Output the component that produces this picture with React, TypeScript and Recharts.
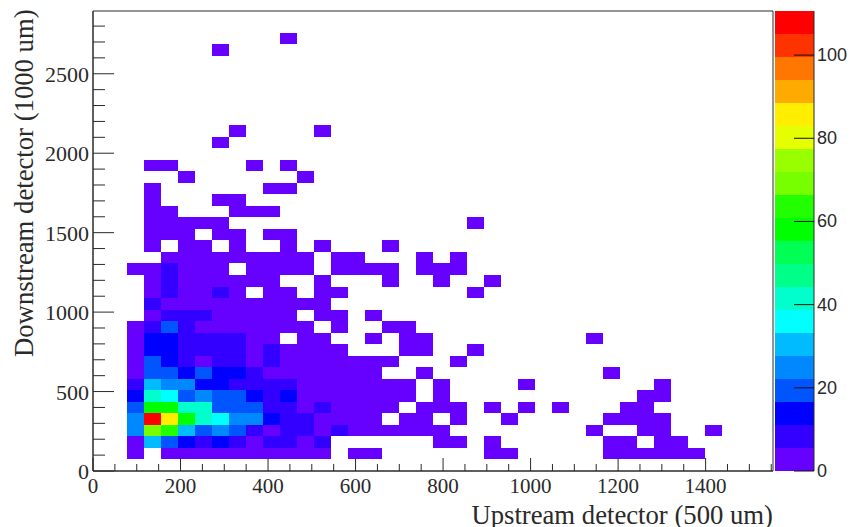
import { Scatter, ScatterChart, XAxis, YAxis, ReferenceArea, BarChart, Bar } from "recharts";

// 40 x 40 bins, rows bottom to top, columns left to right (trailing empties left out)
const COUNTS: number[][] = [
  [],
  [0,0,3,0,3,3,3,3,3,3,3,3,3,3,0,3,3,0,0,0,0,0,0,3,3,0,0,0,0,0,3,3,3,3,3,3],
  [0,0,3,30,19,14,9,14,9,3,9,9,3,9,0,0,0,0,0,0,3,3,0,3,0,0,0,0,0,0,3,3,0,3,3],
  [0,0,25,69,63,30,19,25,19,9,3,9,9,3,9,3,3,3,3,3,3,0,0,0,0,0,0,0,0,3,0,0,3,3,0,0,3],
  [0,0,25,108,85,58,41,36,25,25,14,9,9,3,3,3,3,0,3,3,0,3,0,0,3,0,0,0,0,0,3,3,3,3],
  [0,0,19,58,58,41,41,19,19,19,9,9,3,9,3,3,3,3,0,3,3,3,0,3,0,3,0,3,0,0,0,3,3],
  [0,0,14,41,36,19,25,19,19,14,9,14,3,3,3,3,3,3,3,0,3,0,0,0,0,0,0,0,0,0,0,0,3,3],
  [0,0,9,30,25,25,14,14,9,9,9,9,3,3,3,3,3,3,3,0,3,0,0,0,0,3,0,0,0,0,0,0,0,3],
  [0,0,3,19,19,14,19,14,14,9,3,3,3,3,3,3,3,0,0,3,0,0,0,0,0,0,0,0,0,0,3],
  [0,0,3,19,14,9,3,9,9,3,9,3,3,3,3,3,3,3,0,0,0,3],
  [0,0,3,14,14,9,9,9,9,3,9,3,3,3,3,0,0,0,3,3,0,0,3],
  [0,0,3,14,14,9,9,9,9,3,3,0,3,3,0,0,3,0,3,3,0,0,0,0,0,0,0,0,0,3],
  [0,0,3,9,19,9,3,3,3,3,3,3,3,0,3,0,0,3,3],
  [0,0,0,3,9,9,9,3,3,3,3,3,0,3,3,0,3],
  [0,0,0,9,3,3,3,3,3,3,3,3,3,3],
  [0,0,0,3,9,3,3,9,3,0,3,3,0,3,3,0,0,0,0,0,0,0,3],
  [0,0,0,3,9,3,3,3,3,3,3,0,0,3,0,0,0,3,0,0,3,0,0,3],
  [0,0,3,3,9,3,3,3,0,3,3,3,3,0,3,3,3,3,0,3,3,3],
  [0,0,0,0,3,3,3,3,3,3,3,3,3,0,3,3,0,0,0,3,0,3],
  [0,0,0,3,0,3,3,0,3,0,0,3,0,3,0,0,0,3],
  [0,0,0,3,3,3,0,3,3,0,3,3],
  [0,0,0,3,3,3,3,3,0,0,0,0,0,0,0,0,0,0,0,0,0,0,3],
  [0,0,0,3,3,0,0,0,3,3,3],
  [0,0,0,3,0,0,0,3,3],
  [0,0,0,3,0,0,0,0,0,0,3,3],
  [0,0,0,0,0,3,0,0,0,0,0,0,3],
  [0,0,0,3,3,0,0,0,0,3,0,3],
  [],
  [0,0,0,0,0,0,0,3],
  [0,0,0,0,0,0,0,0,3,0,0,0,0,3],
  [], [], [], [], [], [],
  [0,0,0,0,0,0,0,3],
  [0,0,0,0,0,0,0,0,0,0,0,3],
];

const PALETTE = [
  "#6600ff", "#3300ff", "#0000ff", "#0055ff", "#0088ff", "#00bbff", "#00ffff", "#00ffcc", "#00ff88", "#00ff55",
  "#00ff00", "#22ff00", "#77ff00", "#99ff00", "#e6ff00", "#ffee00", "#ffaa00", "#ff7700", "#ff3300", "#ff0000",
];

const X_MAX = 1554;
const Y_MAX = 2895;
const Z_MAX = 110.6;
const X_BIN = 38.85;
const Y_BIN = 72.55;
const X_TICKS = Array.from({ length: 32 }, (_, i) => i * 50);
const Y_TICKS = Array.from({ length: 29 }, (_, i) => i * 100);
const Z_TICKS = [0, 20, 40, 60, 80, 100];

const PLOT_W = 680;
const PLOT_H = 460;
const INK = "#2a2a2a";
const BAR_FONT = "'Liberation Sans', Arial, sans-serif";
const SERIF = "'Liberation Serif', 'Times New Roman', serif";

const bandSize = Z_MAX / PALETTE.length;
const colorOf = (count: number) => PALETTE[Math.min(Math.floor(count / bandSize), PALETTE.length - 1)];

const cells = COUNTS.flatMap((row, r) =>
  row.flatMap((count, c) =>
    count > 0 ? [{ x: (c + 0.5) * X_BIN, y: (r + 0.5) * Y_BIN, count }] : []
  )
);

const bandRow: Record<string, number | string> = { name: "z" };
PALETTE.forEach((_, i) => {
  bandRow[`b${i}`] = bandSize;
});

function Cell(props: any) {
  const w = (X_BIN * PLOT_W) / X_MAX;
  const h = (Y_BIN * PLOT_H) / Y_MAX;
  return (
    <rect
      x={props.cx - w / 2}
      y={props.cy - h / 2}
      width={w}
      height={h}
      fill={colorOf(props.payload.count)}
      shapeRendering="crispEdges"
    />
  );
}

function XTick({ x, y, payload }: any) {
  const major = payload.value % 200 === 0;
  return (
    <g>
      <line x1={x} x2={x} y1={y} y2={y - (major ? 13 : 7)} stroke={INK} />
      {major && (
        <text x={x} y={y + 22} textAnchor="middle" fontSize={21} fontFamily={SERIF} fill={INK}>
          {payload.value}
        </text>
      )}
    </g>
  );
}

function YTick({ x, y, payload }: any) {
  const major = payload.value % 500 === 0;
  return (
    <g>
      <line x1={x} x2={x + (major ? 21 : 12)} y1={y} y2={y} stroke={INK} />
      {major && (
        <text x={x - 4} y={y + 8} textAnchor="end" fontSize={22} fontFamily={SERIF} fill={INK}>
          {payload.value}
        </text>
      )}
    </g>
  );
}

function ZTick({ x, y, payload }: any) {
  return (
    <g>
      <line x1={x} x2={x - 20} y1={y} y2={y} stroke="#111" />
      <text x={x + 3} y={y + 6} fontSize={18} fontFamily={BAR_FONT} fill={INK}>
        {payload.value}
      </text>
    </g>
  );
}

export default function App() {
  return (
    <div style={{ position: "absolute", left: 0, top: 0, width: 852, height: 527, background: "#fff" }}>
      <div style={{ position: "absolute", left: 0, top: 0 }}>
        <ScatterChart width={775} height={527} margin={{ top: 11, right: 2, bottom: 0, left: 0 }}>
          <XAxis
            type="number"
            dataKey="x"
            domain={[0, X_MAX]}
            ticks={X_TICKS}
            interval={0}
            height={56}
            tickSize={0}
            tickMargin={0}
            tick={<XTick />}
            tickLine={false}
            axisLine={{ stroke: INK }}
            label={{
              value: "Upstream detector (500 um)",
              position: "insideBottomRight",
              offset: 0,
              dy: -3,
              fontSize: 26.7,
              fontFamily: SERIF,
              fill: INK,
            }}
          />
          <YAxis
            type="number"
            dataKey="y"
            domain={[0, Y_MAX]}
            ticks={Y_TICKS}
            interval={0}
            width={93}
            tickSize={0}
            tickMargin={0}
            tick={<YTick />}
            tickLine={false}
            axisLine={{ stroke: INK }}
            label={{
              value: "Downstream detector (1000 um)",
              angle: -90,
              position: "insideLeft",
              offset: 24,
              dy: 116,
              fontSize: 26.7,
              fontFamily: SERIF,
              fill: INK,
            }}
          />
          <Scatter data={cells} shape={<Cell />} isAnimationActive={false} />
          <ReferenceArea x1={0} x2={X_MAX} y1={0} y2={Y_MAX} fill="none" stroke={INK} strokeWidth={1} />
        </ScatterChart>
      </div>
      <div style={{ position: "absolute", left: 775, top: 0 }}>
        <BarChart
          width={77}
          height={527}
          data={[bandRow]}
          barCategoryGap={0}
          margin={{ top: 11, right: 0, bottom: 56, left: 0 }}
        >
          <XAxis dataKey="name" hide />
          <YAxis
            orientation="right"
            type="number"
            domain={[0, Z_MAX]}
            ticks={Z_TICKS}
            interval={0}
            width={38}
            tickSize={0}
            tickMargin={0}
            tick={<ZTick />}
            tickLine={false}
            axisLine={{ stroke: INK }}
          />
          {PALETTE.map((color, i) => (
            <Bar key={color} dataKey={`b${i}`} stackId="z" fill={color} isAnimationActive={false} />
          ))}
        </BarChart>
      </div>
    </div>
  );
}
